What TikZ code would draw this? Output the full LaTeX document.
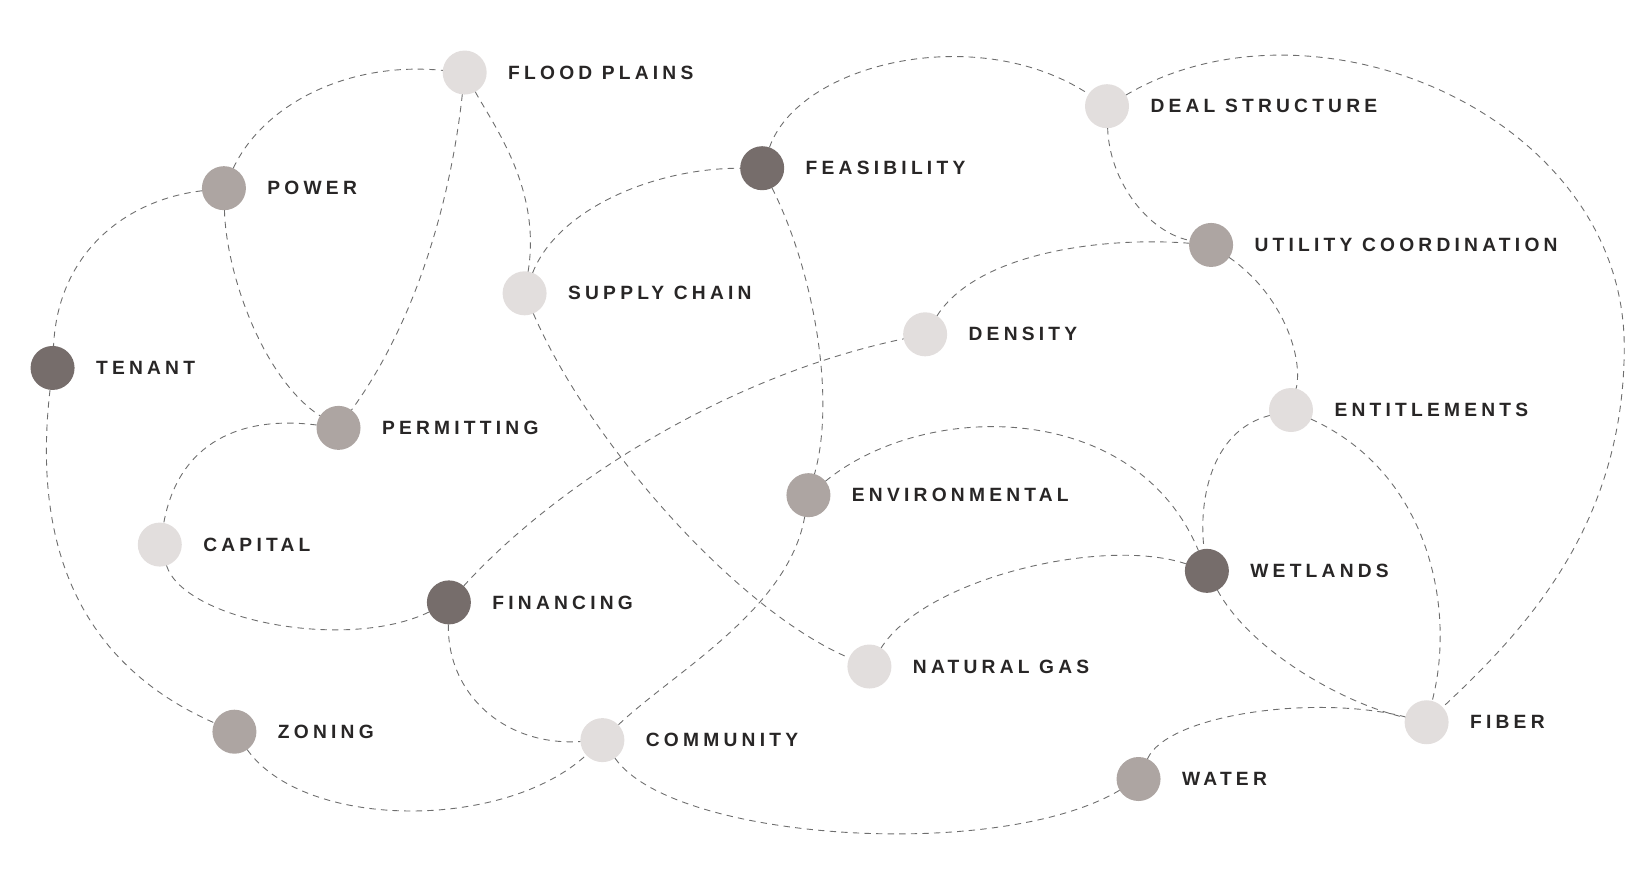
\documentclass[tikz,border=0pt]{standalone}
\usepackage{fontspec}
\setmainfont{Liberation Sans}[LetterSpace=22]
\begin{document}
\begin{tikzpicture}[x=0.5255pt,y=-0.5255pt,
  dot/.style={circle,minimum size=22pt,inner sep=0pt,outer sep=0pt},
  lt/.style={dot,fill={rgb,255:red,226;green,222;blue,221}},
  md/.style={dot,fill={rgb,255:red,173;green,165;blue,162}},
  dk/.style={dot,fill={rgb,255:red,118;green,109;blue,107}},
  lbl/.style={anchor=west,font=\fontsize{9.6}{12}\selectfont\bfseries,text={rgb,255:red,40;green,38;blue,38},inner sep=0pt},
  ln/.style={dashed,dash pattern=on 3.2pt off 2.6pt,draw={rgb,255:red,110;green,110;blue,110},line width=0.45pt}]
\useasboundingbox (0,0) rectangle (1560,826);
\foreach \n/\s/\x/\y/\t in {
 flood/lt/442/69/FLOOD PLAINS, power/md/213/179/POWER, tenant/dk/50/350/TENANT,
 permitting/md/322/407/PERMITTING, capital/lt/152/518/CAPITAL, financing/dk/427/573/FINANCING,
 zoning/md/223/696/ZONING, community/lt/573/704/COMMUNITY, supply/lt/499/279/SUPPLY CHAIN,
 feasibility/dk/725/160/FEASIBILITY, density/lt/880/318/DENSITY, environmental/md/769/471/ENVIRONMENTAL,
 naturalgas/lt/827/634/NATURAL GAS, deal/lt/1053/101/DEAL STRUCTURE, utility/md/1152/233/UTILITY COORDINATION,
 entitlements/lt/1228/390/ENTITLEMENTS, wetlands/dk/1148/543/WETLANDS, fiber/lt/1357/687/FIBER, water/md/1083/741/WATER}{
 \node[\s] (\n) at (\x,\y) {};
 \node[lbl] (\n-l) at (\x+41,\y) {\t};
}
\draw[ln] (power) .. controls (250,100) and (330,58) .. (flood);
\draw[ln] (power) .. controls (120,190) and (55,240) .. (tenant);
\draw[ln] (power) .. controls (215,260) and (250,360) .. (permitting);
\draw[ln] (flood) .. controls (430,180) and (400,300) .. (permitting);
\draw[ln] (flood) .. controls (470,120) and (515,180) .. (supply);
\draw[ln] (tenant) .. controls (35,480) and (50,620) .. (zoning);
\draw[ln] (permitting) .. controls (230,395) and (170,420) .. (capital);
\draw[ln] (capital) .. controls (175,590) and (330,620) .. (financing);
\draw[ln] (financing) .. controls (520,470) and (680,360) .. (density);
\draw[ln] (financing) .. controls (425,660) and (480,710) .. (community);
\draw[ln] (zoning) .. controls (290,790) and (480,790) .. (community);
\draw[ln] (supply) .. controls (530,200) and (620,160) .. (feasibility);
\draw[ln] (supply) .. controls (560,420) and (700,580) .. (naturalgas);
\draw[ln] (feasibility) .. controls (775,260) and (795,380) .. (environmental);
\draw[ln] (feasibility) .. controls (760,60) and (930,20) .. (deal);
\draw[ln] (environmental) .. controls (750,580) and (640,640) .. (community);
\draw[ln] (environmental) .. controls (880,380) and (1080,380) .. (wetlands);
\draw[ln] (community) .. controls (640,800) and (950,820) .. (water);
\draw[ln] (density) .. controls (930,240) and (1050,225) .. (utility);
\draw[ln] (deal) .. controls (1055,170) and (1090,220) .. (utility);
\coordinate (rr) at (1545,330);
\draw[ln] (deal) .. controls (1250,-15) and (1545,110) .. (rr) .. controls (1545,500) and (1450,600) .. (fiber);
\draw[ln] (utility) .. controls (1220,280) and (1240,340) .. (entitlements);
\draw[ln] (entitlements) .. controls (1150,410) and (1140,480) .. (wetlands);
\draw[ln] (entitlements) .. controls (1360,450) and (1385,580) .. (fiber);
\draw[ln] (wetlands) .. controls (1050,510) and (880,550) .. (naturalgas);
\draw[ln] (wetlands) .. controls (1190,620) and (1280,670) .. (fiber);
\draw[ln] (water) .. controls (1110,680) and (1250,660) .. (fiber);
\end{tikzpicture}
\end{document}
